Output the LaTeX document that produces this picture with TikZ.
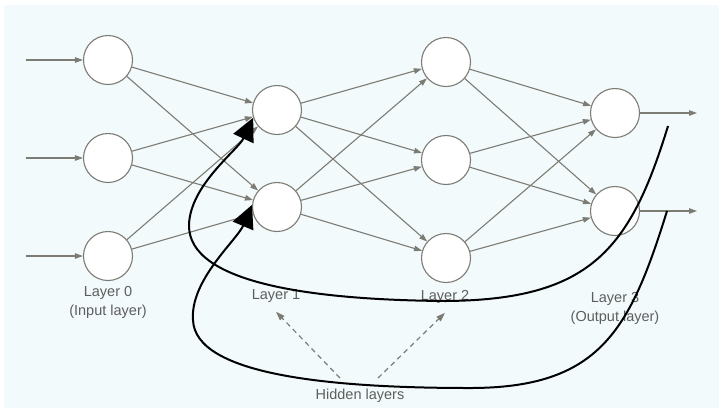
\documentclass[tikz,border=0pt]{standalone}
\usepackage{fontspec}
\setmainfont{Liberation Sans}
\usetikzlibrary{arrows.meta,positioning}
\definecolor{paneback}{HTML}{F2FAFC}
\definecolor{wiregray}{HTML}{7D7C74}
\definecolor{labelgray}{HTML}{5E5E5E}

\begin{document}
\begin{tikzpicture}[x=1pt,y=-1pt,
  neuron/.style={circle,draw=wiregray,fill=white,line width=1.1pt,
                 minimum size=49pt,inner sep=0pt},
  wire/.style={-{Triangle[length=8pt,width=5.5pt]},draw=wiregray,line width=1.1pt},
  lbl/.style={text=labelgray,font=\fontsize{14.5}{19}\selectfont,align=center,inner sep=2pt},
  hint/.style={-{Triangle[length=9pt,width=6pt]},draw=wiregray,line width=1.2pt,
               dash pattern=on 5pt off 4pt},
  sweep/.style={-{Triangle[length=23pt,width=22pt]},line width=2pt}
]
\useasboundingbox (0,0) rectangle (719,408);
\fill[paneback] (4,5) rectangle (719,408);

% the four layers
\node[neuron] (l0-1) at (108,60) {};
\node[neuron] (l0-2) at (108,158) {};
\node[neuron] (l0-3) at (108,256) {};
\node[neuron] (l1-1) at (277,110) {};
\node[neuron] (l1-2) at (277,207) {};
\node[neuron] (l2-1) at (446,62) {};
\node[neuron] (l2-2) at (446,160) {};
\node[neuron] (l2-3) at (446,258) {};
\node[neuron] (l3-1) at (615,113) {};
\node[neuron] (l3-2) at (615,211) {};

\node[lbl] (lay0) at (108,302) {Layer 0\\(Input layer)};
\node[lbl] (lay1) at (276,296) {Layer 1};
\node[lbl] (lay2) at (445,297) {Layer 2};
\node[lbl] (lay3) at (615,308) {Layer 3\\(Output layer)};
\node[lbl] (hid) at (360,396) {Hidden layers};

% inputs and outputs
\foreach \i/\y in {1/60,2/158,3/256}
  \draw[wire] (26,\y) -- (l0-\i);
\coordinate (out1) at (697,113);
\coordinate (out2) at (697,211);
\draw[wire] (l3-1) -- (out1);
\draw[wire] (l3-2) -- (out2);

% fully connected weights
\foreach \a in {1,2,3}
  \foreach \b in {1,2} {
    \draw[wire] (l0-\a) -- (l1-\b);
    \draw[wire] (l2-\a) -- (l3-\b);
  }
\foreach \a in {1,2}
  \foreach \b in {1,2,3}
    \draw[wire] (l1-\a) -- (l2-\b);

% hidden layer pointers
\draw[hint] ([xshift=-20pt,yshift=9pt]hid.north) -- ([yshift=-7pt]lay1.south);
\draw[hint] ([xshift=18pt,yshift=9pt]hid.north) -- ([yshift=-7pt]lay2.south);

% feedback from the outputs
\coordinate (back1) at (668,126);
\coordinate (back2) at (667,211);
\draw[sweep] (back1) .. controls (630,250) and (590,300) .. (445,301)
  .. controls (320,300) and (188,285) .. (189,225)
  .. controls (190,185) and (238,150) .. (l1-1.198);
\draw[sweep] (back2) .. controls (630,330) and (600,388) .. (470,388)
  .. controls (330,388) and (195,375) .. (193,320)
  .. controls (190,280) and (237,240) .. (l1-2.175);
\end{tikzpicture}
\end{document}
